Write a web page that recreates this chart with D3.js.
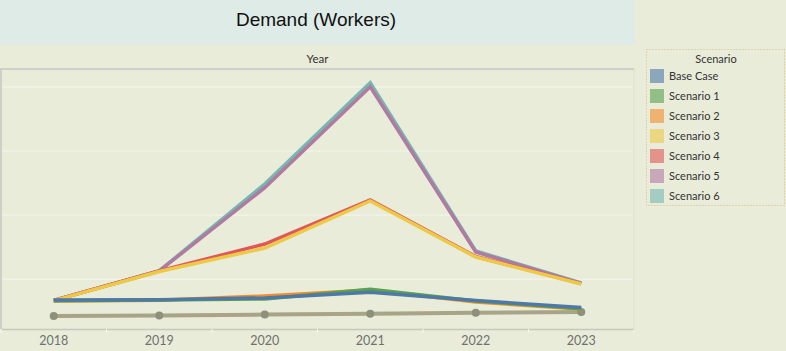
<!DOCTYPE html>
<html>
<head>
<meta charset="utf-8">
<script src="https://cdn.jsdelivr.net/npm/d3@7"></script>
<style>
  body { margin: 0; background: #e8ecd9; }
  svg { display: block; }
</style>
</head>
<body>
<div id="chart"></div>
<script>
// Data (workers)
var years = ["2018", "2019", "2020", "2021", "2022", "2023"];
var scenarios = ["Base Case", "Scenario 1", "Scenario 2", "Scenario 3", "Scenario 4", "Scenario 5", "Scenario 6"];
var baseCase  = [675, 680, 707, 796, 668, 558];
var scenario1 = [665, 675, 691, 842, 660, 540];
var scenario2 = [660, 670, 738, 831, 644, 535];
var scenario3 = [665, 1120, 1487, 2220, 1346, 925];
var scenario4 = [670, 1128, 1549, 2236, 1354, 930];
var scenario5 = [670, 1128, 2427, 4003, 1424, 935];
var scenario6 = [670, 1130, 2485, 4065, 1440, 941];
var reference = [426, 434, 448, 462, 477, 488];   // the tan line with dots, not in the legend
var gridValues = [1000, 2000, 3000, 4000];

var seriesValues = [baseCase, scenario1, scenario2, scenario3, scenario4, scenario5, scenario6];

var width = 786, height = 351;
var plot = { left: 1, right: 634, top: 69, bottom: 329 };

var colour = d3.scaleOrdinal().domain(scenarios)
    .range(["#4e79a7", "#59a14f", "#f28e2b", "#edc948", "#e15759", "#b07aa1", "#76b7b2"]);

var x = d3.scaleBand().domain(years).range([plot.left, plot.right]);
var y = d3.scaleLinear().domain([223, 4279]).range([plot.bottom, plot.top]);

var svg = d3.select("#chart").append("svg")
    .attr("width", width)
    .attr("height", height)
    .style("font-family", "Lato, 'Open Sans', sans-serif");

svg.append("rect").attr("width", width).attr("height", height).attr("fill", "#e8ecd9");

// Title band
svg.append("rect")
    .attr("x", 0).attr("y", 0)
    .attr("width", 635).attr("height", 45)
    .attr("fill", "#deebe7");
svg.append("text")
    .attr("x", 316).attr("y", 26)
    .attr("text-anchor", "middle")
    .attr("font-family", "'Liberation Sans', Arial, sans-serif")
    .attr("font-size", 19)
    .attr("fill", "#111")
    .text("Demand (Workers)");

// Column header
svg.append("text")
    .attr("x", (plot.left + plot.right) / 2).attr("y", 63)
    .attr("text-anchor", "middle")
    .attr("font-size", 11.5)
    .attr("fill", "#333")
    .text("Year");

// Gridlines
svg.append("g")
    .selectAll("line")
    .data(gridValues)
    .join("line")
    .attr("x1", plot.left + 2).attr("x2", plot.right - 2)
    .attr("y1", d => y(d)).attr("y2", d => y(d))
    .attr("stroke", "#f6f6f0")
    .attr("stroke-width", 1);

// Plot borders
svg.append("line").attr("x1", 0).attr("x2", plot.right).attr("y1", plot.top).attr("y2", plot.top)
    .attr("stroke", "#c6c8c0").attr("stroke-width", 1.5);
svg.append("line").attr("x1", plot.left).attr("x2", plot.left).attr("y1", plot.top).attr("y2", plot.bottom)
    .attr("stroke", "#c6c8c0").attr("stroke-width", 1.5);
svg.append("line").attr("x1", plot.right).attr("x2", plot.right).attr("y1", plot.top).attr("y2", plot.bottom)
    .attr("stroke", "#dcdfd0").attr("stroke-width", 1);

// X axis
var xAxis = svg.append("g")
    .attr("transform", `translate(0, ${plot.bottom})`)
    .call(d3.axisBottom(x).tickSize(0).tickPadding(7));
xAxis.select(".domain").attr("stroke", "#c6c8c0").attr("stroke-width", 1.5);
xAxis.selectAll("text")
    .attr("font-family", "Lato, 'Open Sans', sans-serif")
    .attr("font-size", 12.5)
    .attr("fill", "#707070");
// small separators between the years
svg.append("g")
    .selectAll("line")
    .data(years.concat(["end"]))
    .join("line")
    .attr("x1", (d, i) => i < years.length ? x(d) : x.range()[1])
    .attr("x2", (d, i) => i < years.length ? x(d) : x.range()[1])
    .attr("y1", plot.bottom)
    .attr("y2", plot.bottom + 4)
    .attr("stroke", "#f6f6f0");

var line = d3.line()
    .x((d, i) => x(years[i]) + x.bandwidth() / 2)
    .y(d => y(d));

// Reference line with dots
svg.append("path")
    .datum(reference)
    .attr("fill", "none")
    .attr("stroke", "#a7a488")
    .attr("stroke-width", 4)
    .attr("d", line);
svg.append("g")
    .selectAll("circle")
    .data(reference)
    .join("circle")
    .attr("cx", (d, i) => x(years[i]) + x.bandwidth() / 2)
    .attr("cy", d => y(d))
    .attr("r", 4)
    .attr("fill", "#8f907a");

// Scenario lines, drawn so that Base Case ends up on top
var order = d3.range(scenarios.length).reverse();
svg.append("g")
    .selectAll("path")
    .data(order)
    .join("path")
    .attr("fill", "none")
    .attr("stroke", i => colour(scenarios[i]))
    .attr("stroke-width", 3.5)
    .attr("stroke-linejoin", "miter")
    .attr("d", i => line(seriesValues[i]));

// Legend
var legend = svg.append("g");
legend.append("rect")
    .attr("x", 646.5).attr("y", 49.5)
    .attr("width", 138).attr("height", 156)
    .attr("fill", "none")
    .attr("stroke", "#e0b880")
    .attr("stroke-dasharray", "1,2");
legend.append("text")
    .attr("x", 716).attr("y", 63)
    .attr("text-anchor", "middle")
    .attr("font-size", 11)
    .attr("fill", "#333")
    .text("Scenario");
var items = legend.selectAll("g.item")
    .data(scenarios)
    .join("g")
    .attr("class", "item")
    .attr("transform", (d, i) => `translate(650, ${69 + i * 20})`);
items.append("rect")
    .attr("width", 14).attr("height", 14)
    .attr("fill", d => colour(d))
    .attr("fill-opacity", 0.6);
items.append("text")
    .attr("x", 19).attr("y", 11)
    .attr("font-size", 11)
    .attr("fill", "#333")
    .text(d => d);
</script>
</body>
</html>
